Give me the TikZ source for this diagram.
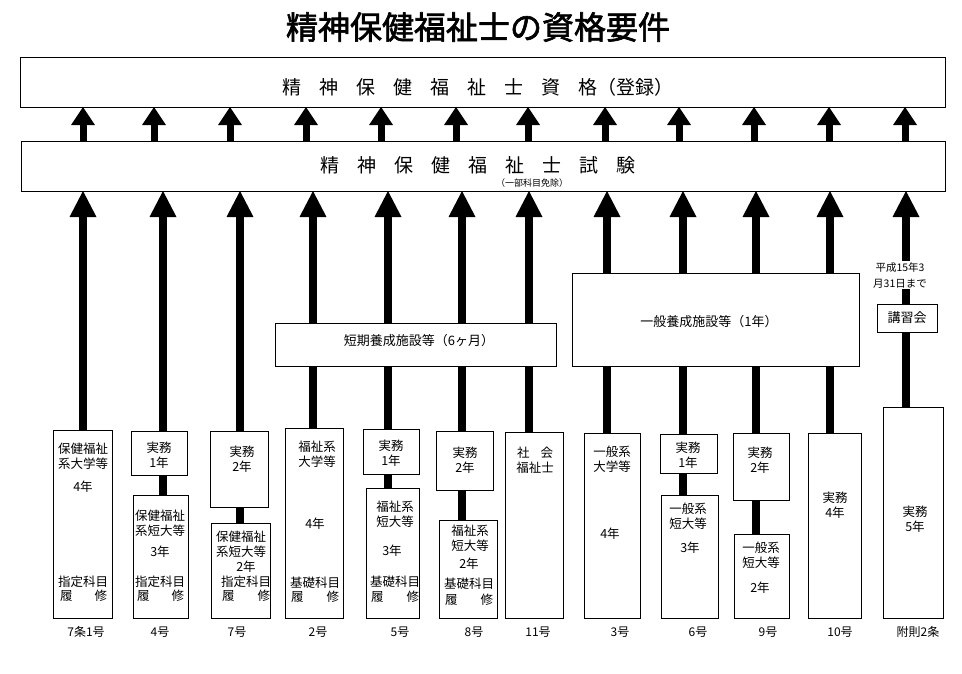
\documentclass[tikz,border=0pt]{standalone}
\usepackage{fontspec}
\newfontfamily\jp{Noto Sans CJK JP}
\newfontfamily\jpt{Noto Sans CJK JP}[FakeBold=2]
\usetikzlibrary{arrows.meta}
\pgfdeclarelayer{bg}
\pgfsetlayers{bg,main}
\tikzset{
 box/.style={draw, line width=0.9pt, fill=white, inner sep=0pt, outer sep=0pt},
 txt/.style={font=\jp\fontsize{12.5}{15}\selectfont, align=center, inner sep=0pt},
 lbl/.style={font=\jp\fontsize{12}{14}\selectfont, inner sep=0pt},
 bigtxt/.style={font=\jp\fontsize{13}{15}\selectfont, inner sep=0pt},
 uparr/.style={line width=7pt, -{Triangle[width=24pt,length=18pt,line width=0pt]}},
 colarr/.style={line width=8pt, -{Triangle[width=27pt,length=26pt,line width=0pt]}},
}
\newcommand\bx[5]{\node[box, minimum width={#4-#2}, minimum height={#5-#3}] (#1) at ({(#2+#4)/2},{(#3+#5)/2}) {};}
\newcommand\rishu[1]{\makebox[#1][s]{履\hfill 修}}
\newcommand\gp{\hspace{18pt}}
\begin{document}
\begin{tikzpicture}[x=1pt,y=-1pt]
\useasboundingbox (0,0) rectangle (962,673);
\node[font=\jpt\fontsize{32}{36}\selectfont, inner sep=0pt] (title) at (478,27) {精神保健福祉士の資格要件};
% main boxes
\bx{top}{20}{57}{945}{107}
\bx{exam}{21}{141}{945}{191}
\bx{short}{275}{323}{556}{366}
\bx{gen}{572}{273}{859}{366}
\bx{kou}{877}{304}{937}{332}
% column boxes
\bx{c1}{53}{430}{112}{618}
\bx{c2a}{131}{431}{187}{475} \bx{c2}{133}{495}{188}{618}
\bx{c3a}{210}{431}{268}{507} \bx{c3}{211}{523}{270}{618}
\bx{c4}{285}{428}{343}{618}
\bx{c5a}{363}{429}{419}{474} \bx{c5}{366}{488}{419}{618}
\bx{c6a}{436}{431}{493}{490} \bx{c6}{439}{520}{497}{618}
\bx{c7}{505}{432}{563}{618}
\bx{c8}{584}{433}{640}{618}
\bx{c9a}{660}{434}{717}{473} \bx{c9}{661}{495}{718}{618}
\bx{c10a}{733}{433}{789}{500} \bx{c10}{734}{534}{789}{618}
\bx{c11}{808}{433}{861}{618}
\bx{c12}{883}{407}{943}{618}
% shaft coordinates
\foreach \i/\x in {1/83,2/163,3/240,4/313,5/388,6/462,7/529,8/607,9/683,10/756,11/830,12/906}
  \coordinate (s\i) at (\x,0);
\foreach \i/\x in {1/83,2/154,3/230,4/306,5/381,6/456,7/528,8/605,9/679,10/754,11/829,12/905}
  \coordinate (t\i) at (\x,0);
\begin{pgfonlayer}{bg}
\foreach \i in {1,...,12}{
  \draw[colarr] (c\i.north -| s\i) -- (exam.south -| s\i);
  \draw[uparr] (exam.north -| t\i) -- (top.south -| t\i);
}
\end{pgfonlayer}
% big box texts
\node[font=\jp\fontsize{19}{22}\selectfont, inner sep=0pt] (toptxt) at (478,87)
  {精\gp 神\gp 保\gp 健\gp 福\gp 祉\gp 士\gp 資\gp 格（登録）};
\node[font=\jp\fontsize{19}{22}\selectfont, inner sep=0pt] (examtxt) at (478,165)
  {精\gp 神\gp 保\gp 健\gp 福\gp 祉\gp 士\gp 試\gp 験};
\node[font=\jp\fontsize{9}{10}\selectfont, inner sep=0pt] (menjo) at (532,183) {（一部科目免除）};
\node[bigtxt] (shorttxt) at (419,341) {短期養成施設等（6ヶ月）};
\node[bigtxt] (gentxt) at (709,322) {一般養成施設等（1年）};
\node[bigtxt] (koutxt) at (907,318) {講習会};
\node[font=\jp\fontsize{10.5}{16}\selectfont, align=center, fill=white, inner sep=1pt] (date) at (900,275) {平成15年3\\月31日まで};
% column texts
\node[txt] at (83,456.5) {保健福祉\\系大学等};
\node[txt] at (83,487) {4年};
\node[txt] at (83,582) {指定科目};
\node[txt] at (83.5,596) {\rishu{47pt}};
\node[txt] at (159,455.5) {実務\\1年};
\node[txt] at (160,523) {保健福祉\\系短大等};
\node[txt] at (160,552) {3年};
\node[txt] at (160,582) {指定科目};
\node[txt] at (160.5,596) {\rishu{47pt}};
\node[txt] at (242,459) {実務\\2年};
\node[txt] at (241,544.5) {保健福祉\\系短大等};
\node[txt] at (246,567) {2年};
\node[txt] at (246,582) {指定科目};
\node[txt] at (246,596) {\rishu{48pt}};
\node[txt] at (317,454.5) {福祉系\\大学等};
\node[txt] at (315,524) {4年};
\node[txt] at (315,583) {基礎科目};
\node[txt] at (315,597) {\rishu{48pt}};
\node[txt] at (391,453) {実務\\1年};
\node[txt] at (395,514.5) {福祉系\\短大等};
\node[txt] at (392,551) {3年};
\node[txt] at (395,582) {基礎科目};
\node[txt] at (395,597) {\rishu{48pt}};
\node[txt] at (465,460.5) {実務\\2年};
\node[txt] at (470,538.5) {福祉系\\短大等};
\node[txt] at (469,564) {2年};
\node[txt] at (469,584) {基礎科目};
\node[txt] at (469,600) {\rishu{48pt}};
\node[txt] at (535,460.5) {\makebox[36pt][s]{社\hfill 会}\\福祉士};
\node[txt] at (612,459) {一般系\\大学等};
\node[txt] at (610,534) {4年};
\node[txt] at (688,455.5) {実務\\1年};
\node[txt] at (688,516.5) {一般系\\短大等};
\node[txt] at (690,548) {3年};
\node[txt] at (760,460.5) {実務\\2年};
\node[txt] at (761,555) {一般系\\短大等};
\node[txt] at (760,588) {2年};
\node[txt] at (835,505.5) {実務\\4年};
\node[txt] at (915,519.5) {実務\\5年};
% labels
\foreach \x/\t in {86/7条1号,160/4号,237/7号,318/2号,400/5号,474/8号,538/11号,620/3号,698/6号,768/9号,840/10号,918/附則2条}
  \node[lbl] at (\x,632) {\t};
\end{tikzpicture}
\end{document}
